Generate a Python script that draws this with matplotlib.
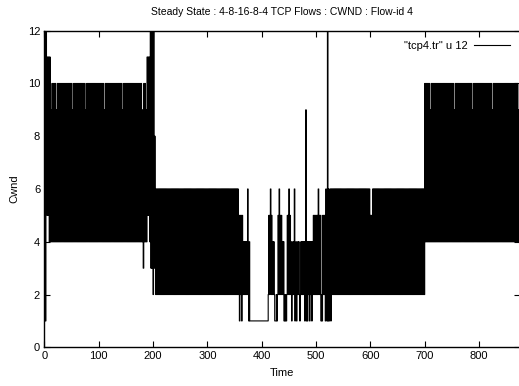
import numpy as np
import matplotlib
matplotlib.use("Agg")
import matplotlib.pyplot as plt

# --------------------------------------------------
# DATA  (cwnd sampled once per time unit, hex digits: a=10, b=11, c=12)
# --------------------------------------------------

RAMP_UP = "1c1cb5b5b4b494"

HIGH_1 = (
    "a4a4a4a494a4a4a4a4a4"
    "a4a4a4a4a4a4a4a4a494"
    "a4a4a4a4a4a4a4a4a4a4"
    "a494a4a4a4a4a4a4a4a4"
    "a4a4a4a4a4a4a4a494a4"
    "a4a4a4a4a4a4a4a4a4a4"
    "a4a4a4a4a494a4a4a4a4"
    "a4a4a4a4a4a4a4a4a4a4"
    "a4a4a494"
)

TRANSITION = "3a4a494b5b5b4c3c3c2c38"

LOW_1 = (
    "62626262626262626262"
    "62626262626262626262"
    "62626262626262626262"
    "62626262626262626262"
    "62626262626262626262"
    "62626262626262626262"
    "62626262626262626262"
    "62626262626262"
)

SPARSE = (
    "5152515242" "4242426214" "1111111111" "1111111111"
    "1111111111" "1111252562" "5242421112" "1252625252"
    "4241212125" "2562524124" "2461241242" "4212424242"
    "4149141424" "1424142525" "2525256252" "5121525251"
    "621c161261" "62"
)

LOW_2 = (
    "62626262626262626262"
    "62626262626262626262"
    "62626262626262626262"
    "62626262625252626262"
    "62626262626262626262"
    "62626262626262626262"
    "62626262626262626262"
    "62626262626262626262"
    "6262626262"
)

HIGH_2 = (
    "a4a4a4a4a494a4a4a4a4"
    "a4a4a4a4a4a4a4a4a4a4"
    "a4a4a4a4a4a4a494a4a4"
    "a4a4a4a4a4a4a4a4a4a4"
    "a4a4a4a494a4a4a4a4a4"
    "a4a4a4a4a4a4a4a4a4a4"
    "a4a494a4a4a4a4a4a4a4"
    "a4a4a4a4a4a4a4a4a4a4"
    "a4a4a4a4a4a494a4"
)

RUNS = [RAMP_UP, HIGH_1, TRANSITION, LOW_1, SPARSE, LOW_2, HIGH_2]

X_TICKS = [0, 100, 200, 300, 400, 500, 600, 700, 800]
Y_TICKS = [0, 2, 4, 6, 8, 10, 12]

TITLE = "Steady State : 4-8-16-8-4 TCP Flows : CWND : Flow-id 4"
KEY_LABEL = '"tcp4.tr" u 12'

# --------------------------------------------------
# PLOT
# --------------------------------------------------

cwnd = np.array([int(ch, 16) for run in RUNS for ch in run], dtype=float)
time = np.arange(len(cwnd))

plt.rcParams["font.family"] = ["Liberation Sans", "DejaVu Sans"]
FS = 8

fig = plt.figure(figsize=(5.19, 3.86), dpi=100)
ax = fig.add_axes([44.3 / 519, 1 - 347.3 / 386, (519.8 - 44.3) / 519, (347.3 - 30.7) / 386])

ax.plot(time, cwnd, drawstyle="steps-post", color="black", lw=0.8, label=KEY_LABEL)

ax.set_xlim(0, 875)
ax.set_ylim(0, 12)
ax.set_xticks(X_TICKS)
ax.set_yticks(Y_TICKS)
ax.tick_params(direction="in", length=4.3, width=0.8, top=True, right=True,
               labelsize=FS, pad=3, colors="black")
for s in ax.spines.values():
    s.set_linewidth(1.0)

ax.set_xlabel("Time", fontsize=FS, labelpad=5)
ax.set_ylabel("Cwnd", fontsize=FS, labelpad=6)
ax.set_title(TITLE, fontsize=7.5, pad=11)

ax.legend(loc="upper right", frameon=False, fontsize=FS, markerfirst=False,
          handlelength=3.2, borderaxespad=0.5, handletextpad=0.6)

plt.savefig("out.png", dpi=100)
plt.close()
